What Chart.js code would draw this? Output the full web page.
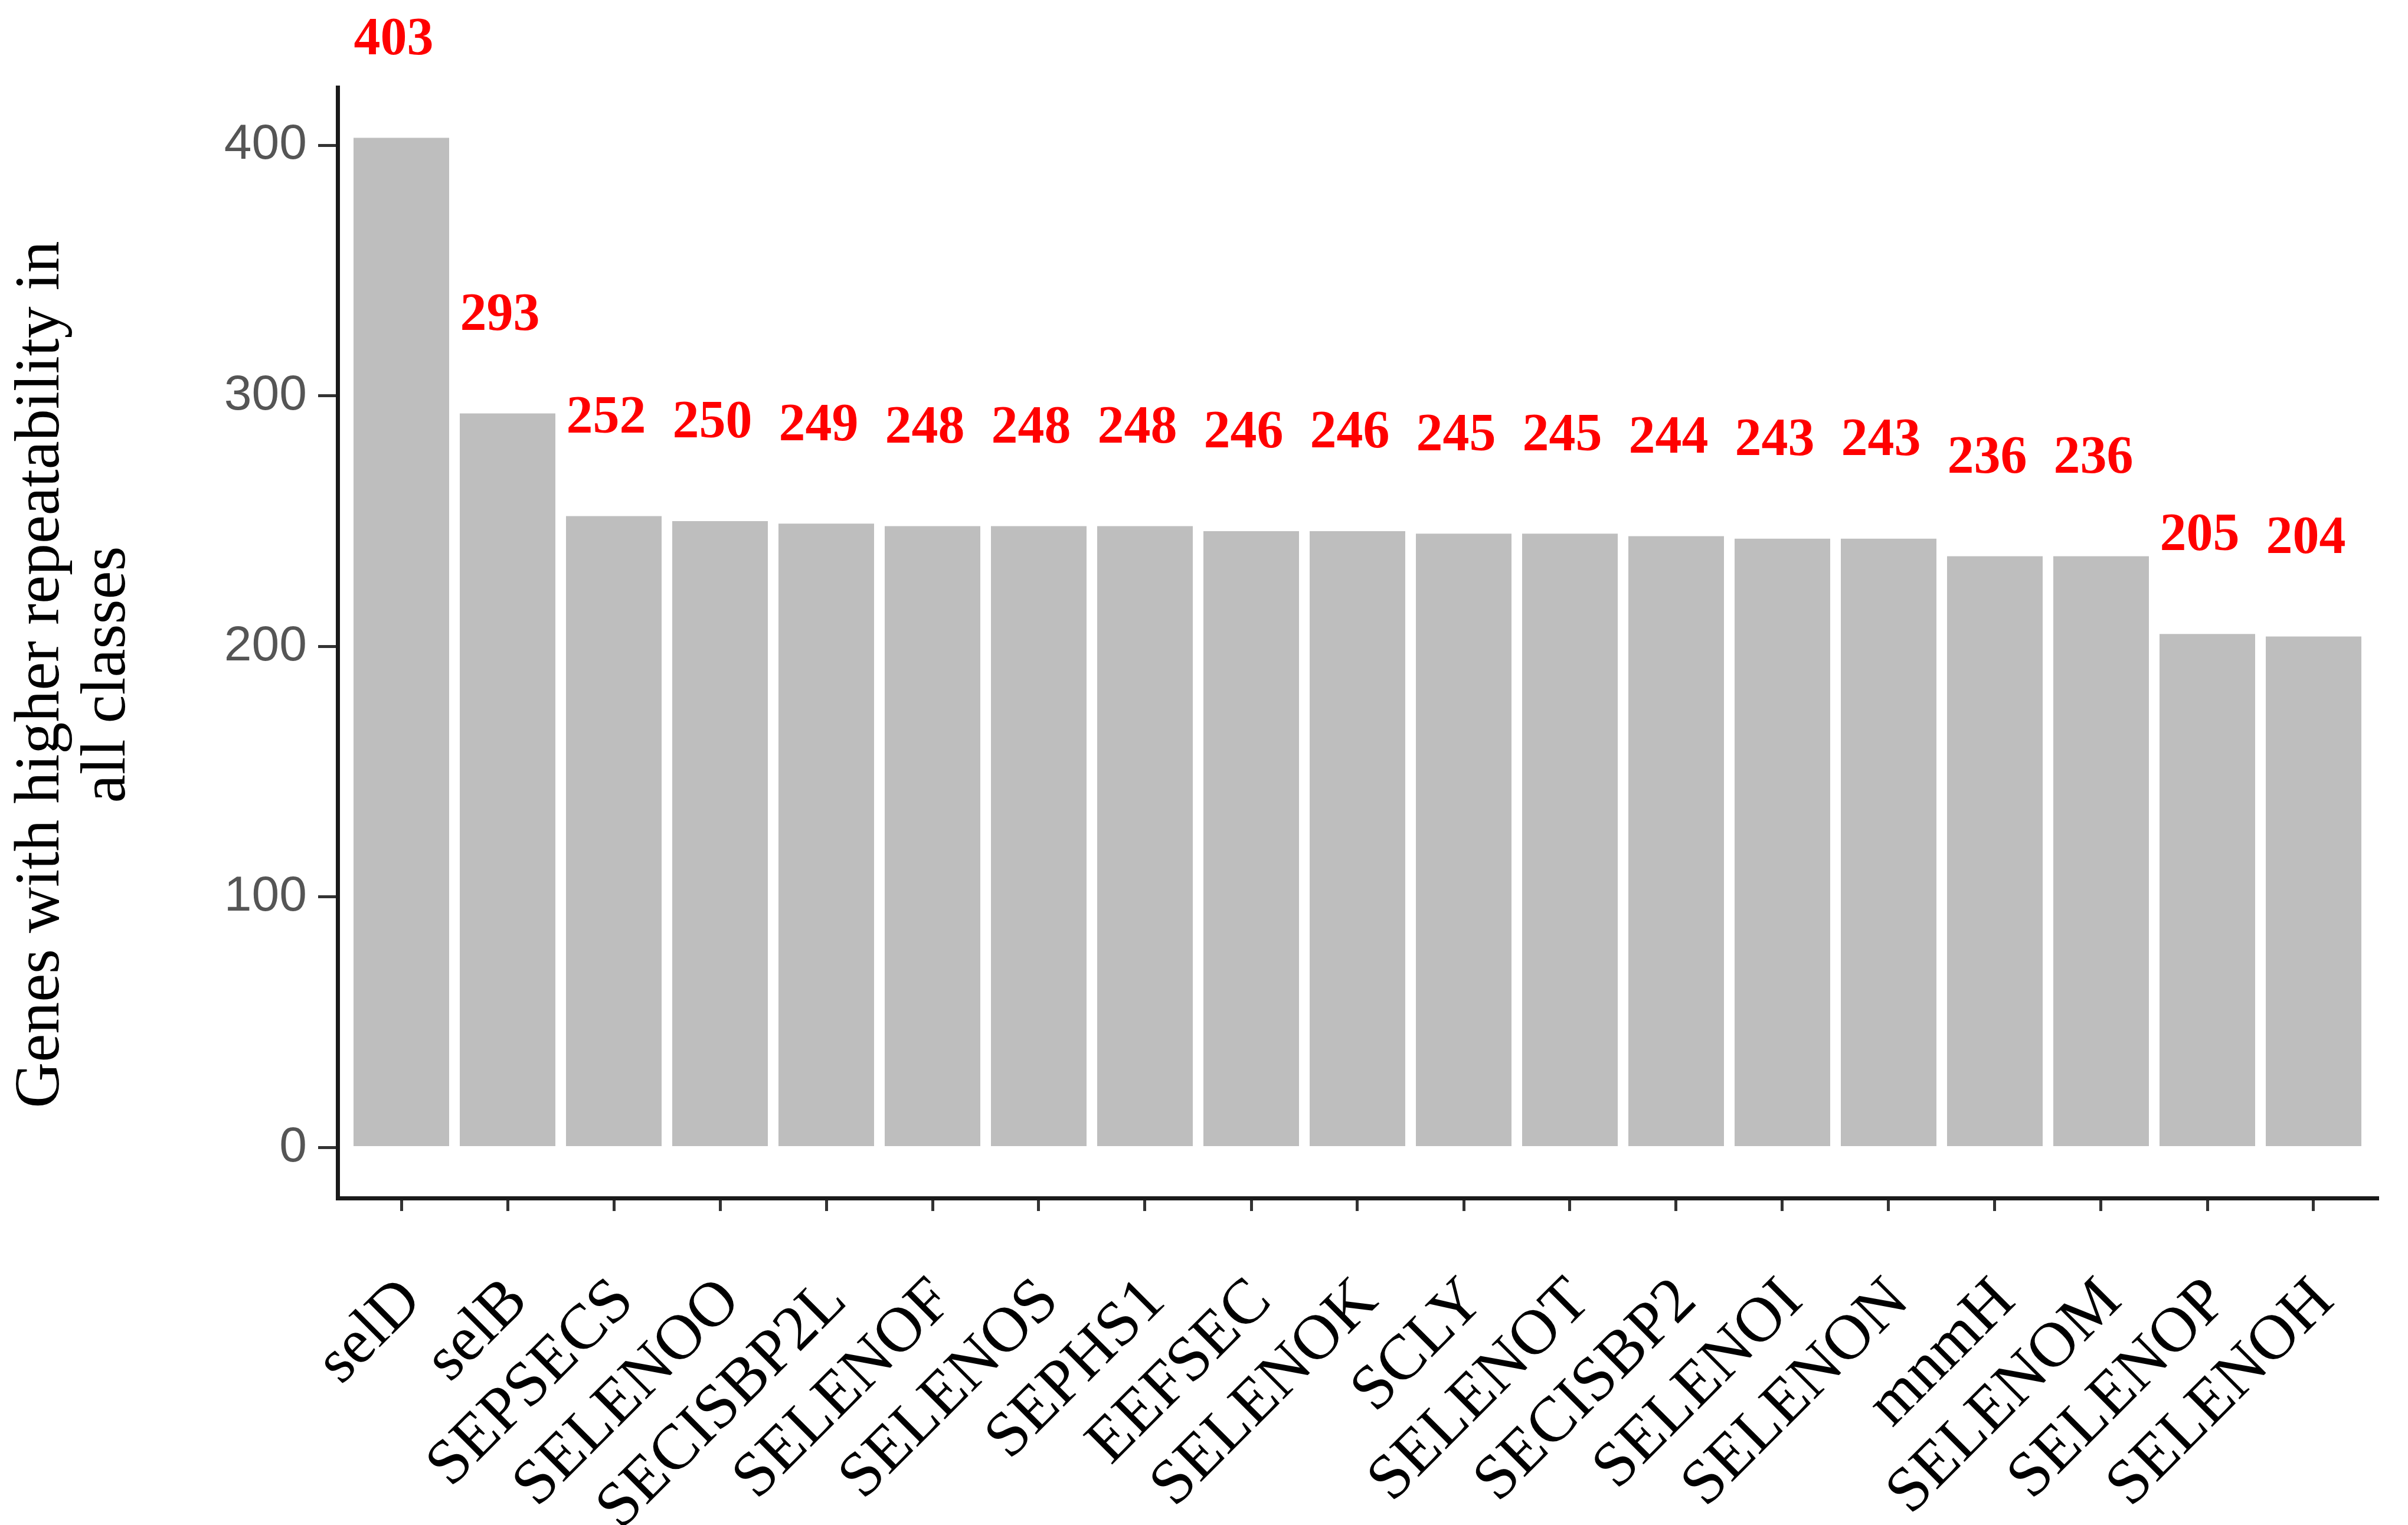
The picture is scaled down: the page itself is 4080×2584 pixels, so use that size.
<!DOCTYPE html>
<html lang="en">
<head>
<meta charset="UTF-8">
<title>Genes with higher repeatability in all classes</title>
<script src="https://cdn.jsdelivr.net/npm/chart.js@4.4.0/dist/chart.umd.min.js"></script>
<style>
  *{margin:0;padding:0;box-sizing:border-box}
  html,body{width:4080px;height:2584px;background:#fff;overflow:hidden}
  #chart{display:block}
</style>
</head>
<body>
<canvas id="chart" width="4080" height="2584"></canvas>
<script>
/* data */
const genes=['selD','selB','SEPSECS','SELENOO','SECISBP2L','SELENOF','SELENOS','SEPHS1','EEFSEC','SELENOK','SCLY','SELENOT','SECISBP2','SELENOI','SELENON','mnmH','SELENOM','SELENOP','SELENOH'];
const counts=[403,293,252,250,249,248,248,248,246,246,245,245,244,243,243,236,236,205,204];
const yTicks=[0,100,200,300,400];
// trailing nbsp nudge the rotated title a little lower, like the original
const yTitle=['Genes with higher repeatability in\u00a0\u00a0\u00a0\u00a0','all classes\u00a0\u00a0\u00a0\u00a0'];

/* red value labels above the bars */
const valueLabels={id:'valueLabels',afterDatasetsDraw(chart){
  const {ctx}=chart;const meta=chart.getDatasetMeta(0);
  ctx.save();ctx.fillStyle='#ff0000';ctx.font='bold 90px "Liberation Serif"';
  ctx.textAlign='center';ctx.textBaseline='middle';
  meta.data.forEach((bar,i)=>ctx.fillText(String(counts[i]),bar.x-13,bar.y-165));
  ctx.restore();
}};

new Chart('chart',{
  type:'bar',
  data:{datasets:[{data:counts.map((v,i)=>({x:i,y:v})),backgroundColor:'#bebebe',borderWidth:0,barPercentage:0.9,categoryPercentage:1}]},
  options:{
    responsive:false,animation:false,
    layout:{padding:{top:148,right:52,left:0,bottom:0}},
    plugins:{legend:{display:false},tooltip:{enabled:false}},
    scales:{
      x:{type:'linear',min:-0.6,max:18.6,offset:false,
        afterBuildTicks:s=>{s.ticks=genes.map((g,i)=>({value:i}))},
        afterFit:s=>{s.height=554;s.paddingLeft=0;s.paddingRight=0},
        grid:{offset:false,drawOnChartArea:false,drawTicks:true,tickLength:22,color:'#333',lineWidth:5},
        border:{display:true,color:'#1a1a1a',width:7},
        ticks:{autoSkip:false,minRotation:45,maxRotation:45,padding:90,labelOffset:18,color:'#000',
          font:{family:'"Liberation Serif"',size:108},callback:v=>genes[v]}},
      y:{min:-20.15,max:423.15,
        afterBuildTicks:s=>{s.ticks=yTicks.map(v=>({value:v}))},
        afterFit:s=>{s.width=572},
        grid:{drawOnChartArea:false,tickLength:33,color:'#333',lineWidth:5},
        border:{display:true,color:'#1a1a1a',width:7},
        ticks:{padding:19,color:'#555',font:{family:'"Liberation Sans"',size:84}},
        title:{display:true,text:yTitle,color:'#000',
          font:{family:'"Liberation Serif"',size:108,lineHeight:1.04},padding:{top:14,bottom:0}}}
    }
  },
  plugins:[valueLabels]
});
</script>
</body>
</html>
